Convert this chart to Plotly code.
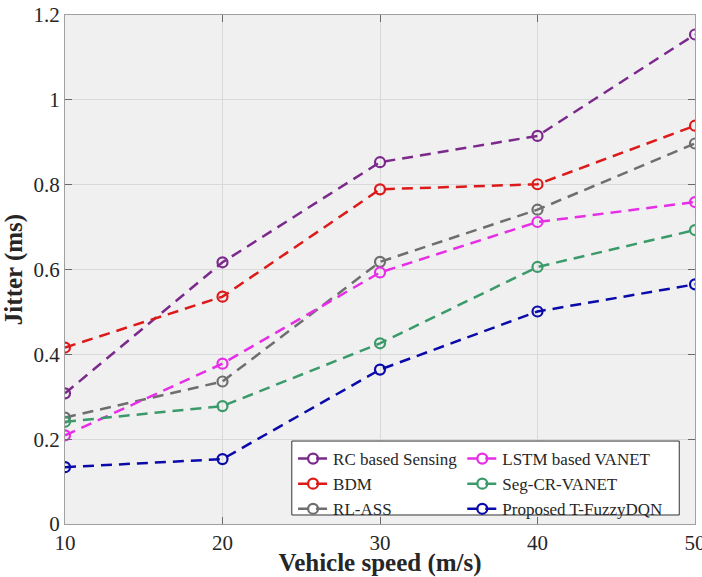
import plotly.graph_objects as go

# Vehicle speed (m/s)
speed = [10, 20, 30, 40, 50]

# Jitter (ms) per scheme
rc_sensing = [0.308, 0.617, 0.853, 0.915, 1.154]
bdm = [0.416, 0.536, 0.789, 0.801, 0.939]
rl_ass = [0.251, 0.336, 0.618, 0.741, 0.897]
lstm_vanet = [0.209, 0.378, 0.593, 0.712, 0.759]
seg_cr_vanet = [0.241, 0.278, 0.426, 0.606, 0.693]
t_fuzzydqn = [0.134, 0.153, 0.364, 0.501, 0.565]

series = [
    ("RC based Sensing", rc_sensing, "#7b2a8c", "g1"),
    ("BDM", bdm, "#dd1a1a", "g1"),
    ("RL-ASS", rl_ass, "#6e6e6e", "g1"),
    ("LSTM based VANET", lstm_vanet, "#e62ee6", "g2"),
    ("Seg-CR-VANET", seg_cr_vanet, "#3b9a6a", "g2"),
    ("Proposed T-FuzzyDQN", t_fuzzydqn, "#0a0aaa", "g2"),
]

FONT = "Liberation Serif, Times New Roman, serif"

fig = go.Figure()
for name, vals, color, grp in series:
    fig.add_trace(go.Scatter(
        x=speed, y=vals, name=name, legendgroup=grp,
        mode="lines+markers",
        line=dict(color=color, width=2.5, dash="11px,7px"),
        marker=dict(symbol="circle-open", size=10, color=color,
                    line=dict(color=color, width=2.2)),
    ))

axis_common = dict(
    showline=True, linecolor="#a0a0a0", linewidth=1.2, mirror="ticks",
    ticks="inside", ticklen=7, tickcolor="#6a6a6a", tickwidth=1,
    showgrid=True, gridcolor="#d9d9d9", gridwidth=1,
    zeroline=False, ticklabeloverflow="allow", automargin=False,
    tickfont=dict(family=FONT, size=21, color="#262626"),
)

fig.update_xaxes(
    range=[10, 50], dtick=10, tick0=10,
    title=dict(text="<b>Vehicle speed (m/s)</b>", standoff=3,
               font=dict(family=FONT, size=25, color="#262626")),
    **axis_common,
)
fig.update_yaxes(
    range=[0, 1.2], dtick=0.2, tick0=0,
    title=dict(text="<b>Jitter (ms)</b>", standoff=5,
               font=dict(family=FONT, size=25, color="#262626")),
    **axis_common,
)

# legend frame: white box with a dark border, drawn over the curves
fig.add_shape(
    type="rect", xref="paper", yref="paper",
    x0=0.360, x1=0.975, y0=0.0177, y1=0.163,
    fillcolor="white", line=dict(color="#333333", width=1), layer="above",
)

fig.update_layout(
    width=702, height=577,
    margin=dict(l=65, r=7, t=15, b=53),
    paper_bgcolor="white",
    plot_bgcolor="#f0f0f0",
    font=dict(family=FONT, color="#262626"),
    legend=dict(
        orientation="h", traceorder="grouped", tracegroupgap=0,
        x=0.362, y=0.163, xanchor="left", yanchor="top",
        bgcolor="rgba(0,0,0,0)", borderwidth=0,
        font=dict(family=FONT, size=17, color="#262626"),
        itemwidth=30,
    ),
)

fig.write_html("out.html")
